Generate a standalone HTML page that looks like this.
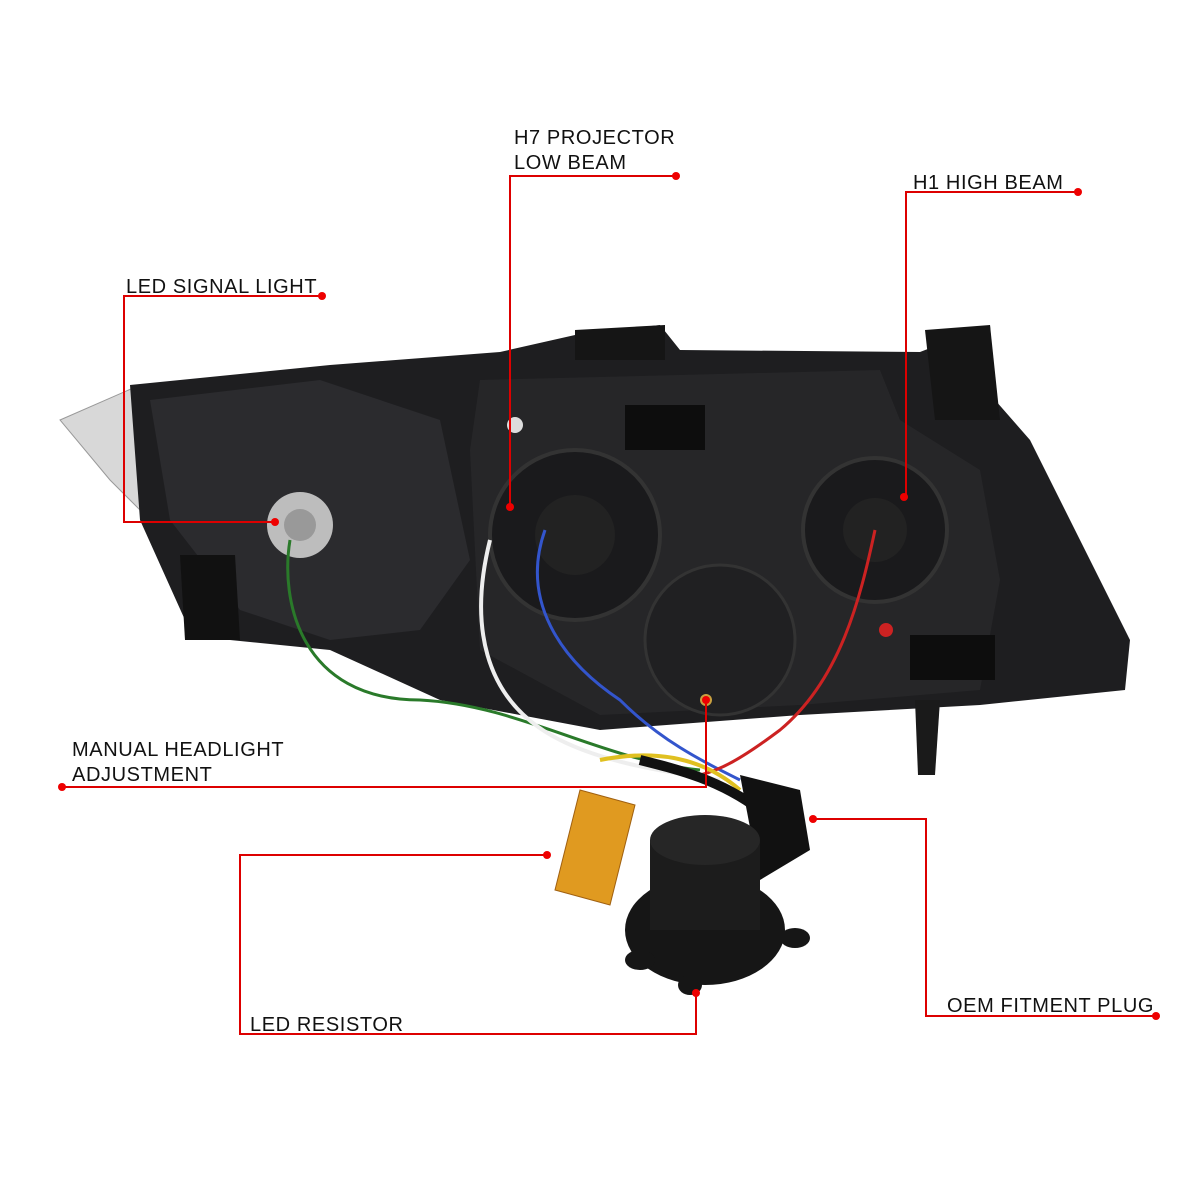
<!DOCTYPE html>
<html><head><meta charset="utf-8"><style>
html,body{margin:0;padding:0;background:#fff;}
svg{display:block}
text{font-family:"Liberation Sans",sans-serif;font-size:20px;fill:#111;letter-spacing:0.6px;}
</style></head><body>
<svg width="1200" height="1200" viewBox="0 0 1200 1200">
<rect width="1200" height="1200" fill="#fff"/>
<polygon points="60,420 140,385 150,520 110,480" fill="#d8d8d8" stroke="#999"/>
<polygon points="130,385 330,365 500,352 575,335 660,325 680,350 920,352 990,325 995,400 1030,440 1130,640 1125,690 980,705 800,715 600,730 440,700 330,650 230,640 185,620 140,520" fill="#1e1e20"/>
<polygon points="150,400 320,380 440,420 470,560 420,630 330,640 240,610 170,520" fill="#2b2b2e"/>
<polygon points="480,380 880,370 900,420 980,470 1000,580 980,690 800,705 600,715 480,650 470,450" fill="#262628"/>
<polygon points="575,330 665,325 665,360 575,360" fill="#151515"/>
<polygon points="925,330 990,325 1000,420 935,420" fill="#151515"/>
<polygon points="915,700 940,700 935,775 918,775" fill="#1a1a1a"/>
<polygon points="180,555 235,555 240,640 185,640" fill="#111"/>
<circle cx="300" cy="525" r="33" fill="#bdbdbd"/>
<circle cx="300" cy="525" r="16" fill="#999"/>
<circle cx="575" cy="535" r="85" fill="#1a1a1c" stroke="#333" stroke-width="4"/>
<circle cx="575" cy="535" r="40" fill="#222"/>
<circle cx="875" cy="530" r="72" fill="#1a1a1c" stroke="#333" stroke-width="4"/>
<circle cx="875" cy="530" r="32" fill="#222"/>
<circle cx="720" cy="640" r="75" fill="#202022" stroke="#333" stroke-width="3"/>
<circle cx="515" cy="425" r="8" fill="#ddd"/>
<rect x="625" y="405" width="80" height="45" fill="#0d0d0d"/>
<rect x="910" y="635" width="85" height="45" fill="#0d0d0d"/>
<circle cx="886" cy="630" r="7" fill="#c22"/>
<path d="M290,540 C280,600 300,700 420,700 C520,705 600,760 700,770" stroke="#2a7a2a" stroke-width="3" fill="none"/>
<path d="M545,530 C520,600 560,660 620,700 C660,740 700,760 740,780" stroke="#3355cc" stroke-width="3" fill="none"/>
<path d="M490,540 C470,620 480,700 560,740 C600,760 650,770 720,780" stroke="#eee" stroke-width="4" fill="none"/>
<path d="M875,530 C860,600 840,680 780,730 C740,760 720,770 700,775" stroke="#cc2222" stroke-width="3" fill="none"/>
<path d="M600,760 C650,750 700,755 740,790" stroke="#e0c020" stroke-width="4" fill="none"/>
<path d="M640,760 C680,770 720,780 760,810" stroke="#111" stroke-width="10" fill="none"/>
<polygon points="580,790 635,805 610,905 555,890" fill="#e09a20" stroke="#a06010"/>
<polygon points="740,775 800,790 810,850 760,880" fill="#111"/>
<ellipse cx="705" cy="930" rx="80" ry="55" fill="#161616"/>
<rect x="650" y="840" width="110" height="90" fill="#1c1c1c"/>
<ellipse cx="705" cy="840" rx="55" ry="25" fill="#262626"/>
<ellipse cx="640" cy="960" rx="15" ry="10" fill="#161616"/>
<ellipse cx="795" cy="938" rx="15" ry="10" fill="#161616"/>
<ellipse cx="690" cy="985" rx="12" ry="10" fill="#161616"/>
<circle cx="706" cy="700" r="6" fill="#c9a040"/>
<g stroke="#d00" stroke-width="2" fill="none">
<polyline points="676,176 510,176 510,507"/>
<polyline points="1078,192 906,192 906,497"/>
<polyline points="322,296 124,296 124,522 275,522"/>
<polyline points="62,787 706,787 706,700"/>
<polyline points="547,855 240,855 240,1034 696,1034 696,993"/>
<polyline points="813,819 926,819 926,1016 1156,1016"/>
</g>
<g fill="#e00">
<circle cx="676" cy="176" r="4"/><circle cx="510" cy="507" r="4"/>
<circle cx="1078" cy="192" r="4"/><circle cx="904" cy="497" r="4"/>
<circle cx="322" cy="296" r="4"/><circle cx="275" cy="522" r="4"/>
<circle cx="62" cy="787" r="4"/><circle cx="706" cy="700" r="4"/>
<circle cx="547" cy="855" r="4"/><circle cx="696" cy="993" r="4"/>
<circle cx="813" cy="819" r="4"/><circle cx="1156" cy="1016" r="4"/>
</g>
<text x="514" y="144">H7 PROJECTOR</text>
<text x="514" y="169">LOW BEAM</text>
<text x="913" y="189">H1 HIGH BEAM</text>
<text x="126" y="293">LED SIGNAL LIGHT</text>
<text x="72" y="756">MANUAL HEADLIGHT</text>
<text x="72" y="781">ADJUSTMENT</text>
<text x="250" y="1031">LED RESISTOR</text>
<text x="947" y="1012">OEM FITMENT PLUG</text>
</svg>
</body></html>
